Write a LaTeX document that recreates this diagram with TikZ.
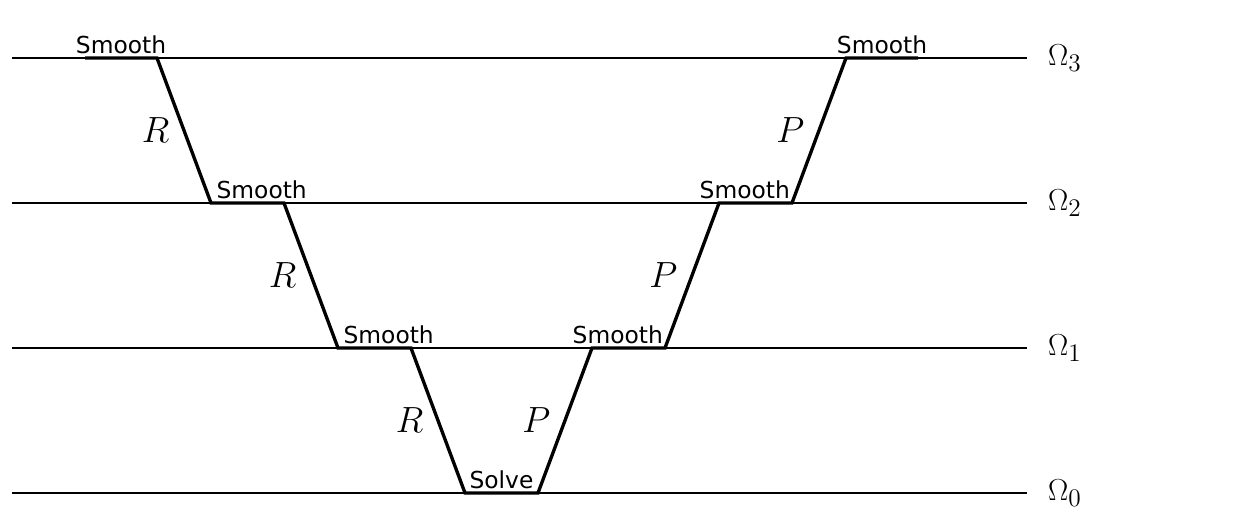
\documentclass[tikz,border=0pt]{standalone}
\usepackage{fontspec}
\newfontfamily\oplabelfont{DejaVu Sans}
\usetikzlibrary{positioning,calc}

\begin{document}
\begin{tikzpicture}[x=0.02cm, y=-0.02cm,
  level/.style={line width=0.8pt},
  vcycle/.style={line width=1.9pt, line join=miter},
  oplabel/.style={font=\oplabelfont\fontsize{13.3}{16}\selectfont, inner sep=1pt},
  transfer/.style={font=\fontsize{21}{24}\selectfont},
  lvllabel/.style={font=\fontsize{19}{22}\selectfont}]
  \useasboundingbox (0,0) rectangle (1252,520);
  % grid levels
  \foreach \k/\y in {3/58,2/203,1/348,0/493}{
    \coordinate (l\k) at (12,\y);
    \coordinate (r\k) at (1027,\y);
    \draw[level] (l\k) -- (r\k);
    \node[lvllabel, right=0.3cm of r\k] (om\k) {$\Omega_\k$};
  }
  % corners of the V-cycle
  \coordinate (a1) at (85,58);   \coordinate (a2) at (157,58);
  \coordinate (b1) at (211,203); \coordinate (b2) at (284,203);
  \coordinate (c1) at (338,348); \coordinate (c2) at (411,348);
  \coordinate (d1) at (465,493); \coordinate (d2) at (538,493);
  \coordinate (e1) at (592,348); \coordinate (e2) at (665,348);
  \coordinate (f1) at (719,203); \coordinate (f2) at (792,203);
  \coordinate (g1) at (846,58);  \coordinate (g2) at (918,58);
  \draw[vcycle] (a1) -- (a2)
    -- node[transfer, midway, left=4pt] {$R$} (b1) -- (b2)
    -- node[transfer, midway, left=4pt] {$R$} (c1) -- (c2)
    -- node[transfer, midway, left=4pt] {$R$} (d1) -- (d2)
    -- node[transfer, midway, left=4pt] {$P$} (e1) -- (e2)
    -- node[transfer, midway, left=4pt] {$P$} (f1) -- (f2)
    -- node[transfer, midway, left=4pt] {$P$} (g1) -- (g2);
  % smoothing and solving steps
  \node[oplabel, above=1pt] (s3l) at ($(a1)!0.5!(a2)$) {Smooth};
  \node[oplabel, above right=1pt and 2pt of b1] (s2l) {Smooth};
  \node[oplabel, above right=1pt and 2pt of c1] (s1l) {Smooth};
  \node[oplabel, above=1pt] (solve) at ($(d1)!0.5!(d2)$) {Solve};
  \node[oplabel, above left=1pt and 0pt of e2] (s1r) {Smooth};
  \node[oplabel, above left=1pt and 0pt of f2] (s2r) {Smooth};
  \node[oplabel, above=1pt] (s3r) at ($(g1)!0.5!(g2)$) {Smooth};
\end{tikzpicture}
\end{document}
